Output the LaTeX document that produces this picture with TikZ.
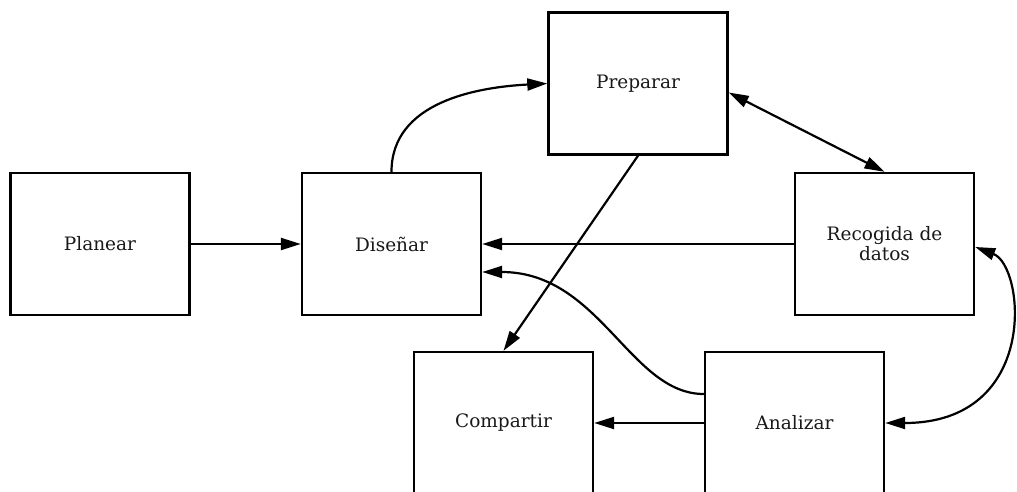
\documentclass[tikz,border=0pt]{standalone}
\usepackage{fontspec}
\setmainfont{DejaVu Serif}
\usetikzlibrary{arrows.meta,calc}
\begin{document}
\begin{tikzpicture}[x=1pt,y=1pt,
  stage/.style={draw=black,line width=2.4pt,fill=white,minimum width=179pt,
    minimum height=142pt,align=center,inner sep=0pt,
    font=\fontsize{18.5}{20}\selectfont,text=black!90},
  link/.style={line width=2.2pt,draw=black,-{Triangle[length=20pt,width=12pt]}},
  link2/.style={line width=2.2pt,draw=black,{Triangle[length=20pt,width=12pt]}-{Triangle[length=20pt,width=12pt]}}]
\useasboundingbox (0,0) rectangle (1017,491);
\fill[white] (0,0) rectangle (1017,491);

% the six stages
\node[stage] (plan) at (100,247) {Planear};
\node[stage] (dis)  at (391.5,247) {Diseñar};
\node[stage] (prep) at (638,407.5) {Preparar};
\node[stage] (rec)  at (884.5,247) {Recogida de\\datos};
\node[stage] (comp) at (503.5,68) {Compartir};
\node[stage] (ana)  at (794.5,68) {Analizar};

% flows between stages
\draw[link] (plan.east) -- (dis.west);
\draw[link] (dis.north) to[out=90,in=183] (prep.west);
\draw[link2] ($(prep.east)+(0,-9)$) -- (rec.north);
\draw[link] (prep.south) -- (comp.north);
\draw[link] (rec.west) -- (dis.east);
\draw[link] ($(ana.west)+(0,29)$) .. controls (630,97) and (600,219) .. ($(dis.east)+(0,-28)$);
\draw[link] (ana.west) -- (comp.east);
\draw[link2] ($(rec.east)+(0,-3)$) .. controls (1025,225) and (1040,68) .. (ana.east);
\end{tikzpicture}
\end{document}
